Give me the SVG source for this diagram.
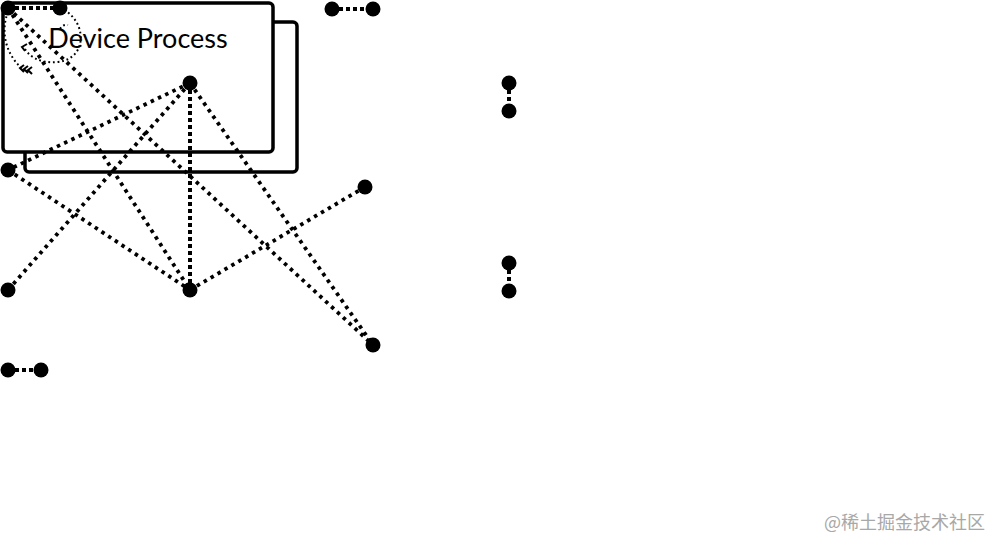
<svg xmlns="http://www.w3.org/2000/svg" width="1000" height="550" viewBox="0 0 1000 550">
<style>
.box{fill:#fff;stroke:#000;stroke-width:3.5}
.dot{fill:#000}
.diag{fill:none;stroke:#000;stroke-width:3.8;stroke-dasharray:3.5 4.5}
.dense{fill:none;stroke:#000;stroke-width:4;stroke-dasharray:4 3}
.loop{fill:none;stroke:#000;stroke-width:2;stroke-dasharray:1.8 2.8}
.chev{fill:none;stroke:#000;stroke-width:2}
.label{font-family:Lato,"Open Sans","Noto Sans",sans-serif;font-size:27px;fill:#000}
.wm{font-family:"Noto Sans CJK SC","Noto Sans",sans-serif;font-size:18px;fill:#a8a8a8}
</style>
<rect width="1000" height="550" fill="#fff"/>
<g id="node-device-process">
<rect class="box" x="25" y="22" width="272" height="150" rx="4"/>
<rect class="box" x="3" y="3" width="270" height="149" rx="4"/>
<text class="label" x="138" y="48" text-anchor="middle">Device Process</text>
</g>
<g id="connectors">
<line class="dense" x1="8" y1="8" x2="60" y2="8"/>
<line class="diag" x1="8" y1="8" x2="190" y2="290"/>
<line class="diag" x1="8" y1="8" x2="373" y2="345"/>
<line class="diag" x1="190" y1="83" x2="8" y2="170"/>
<line class="diag" x1="190" y1="83" x2="8" y2="290"/>
<line class="dense" x1="190" y1="83" x2="190" y2="290"/>
<line class="diag" x1="190" y1="83" x2="373" y2="345"/>
<line class="diag" x1="8" y1="170" x2="190" y2="290"/>
<line class="diag" x1="190" y1="290" x2="365" y2="187"/>
<line class="dense" x1="332" y1="9" x2="373" y2="9"/>
<line class="dense" x1="8" y1="370" x2="41" y2="370"/>
<line class="dense" x1="509" y1="83" x2="509" y2="111"/>
<line class="dense" x1="509" y1="263" x2="509" y2="291"/>
<path class="loop" d="M60 8 C86 18 90 58 58 62 C40 64 28 56 24 47"/>
<path class="loop" d="M8 12 C0 32 6 56 24 70"/>
<path class="loop" d="M60 29 Q63 24 68 25"/>
<path class="chev" d="M27 44 L22 47 L25 51"/>
<path class="chev" d="M24 65 L20 68 L24 72 M28 66 L24 69 L28 73 M32 67 L28 70 L32 74"/>
</g>
<g id="node-a"><circle class="dot" cx="8" cy="8" r="7.5"/></g>
<g id="node-b"><circle class="dot" cx="60" cy="8" r="7.5"/></g>
<g id="node-c"><circle class="dot" cx="190" cy="83" r="7.5"/></g>
<g id="node-d"><circle class="dot" cx="8" cy="170" r="7.5"/></g>
<g id="node-e"><circle class="dot" cx="8" cy="290" r="7.5"/></g>
<g id="node-f"><circle class="dot" cx="190" cy="290" r="7.5"/></g>
<g id="node-g"><circle class="dot" cx="365" cy="187" r="7.5"/></g>
<g id="node-h"><circle class="dot" cx="373" cy="345" r="7.5"/></g>
<g id="node-i"><circle class="dot" cx="8" cy="370" r="7.5"/></g>
<g id="node-j"><circle class="dot" cx="41" cy="370" r="7.5"/></g>
<g id="node-k"><circle class="dot" cx="332" cy="9" r="7.5"/></g>
<g id="node-l"><circle class="dot" cx="373" cy="9" r="7.5"/></g>
<g id="node-m"><circle class="dot" cx="509" cy="83" r="7.5"/></g>
<g id="node-n"><circle class="dot" cx="509" cy="111" r="7.5"/></g>
<g id="node-o"><circle class="dot" cx="509" cy="263" r="7.5"/></g>
<g id="node-p"><circle class="dot" cx="509" cy="291" r="7.5"/></g>
<text class="wm" x="985" y="529" text-anchor="end">@稀土掘金技术社区</text>
</svg>
